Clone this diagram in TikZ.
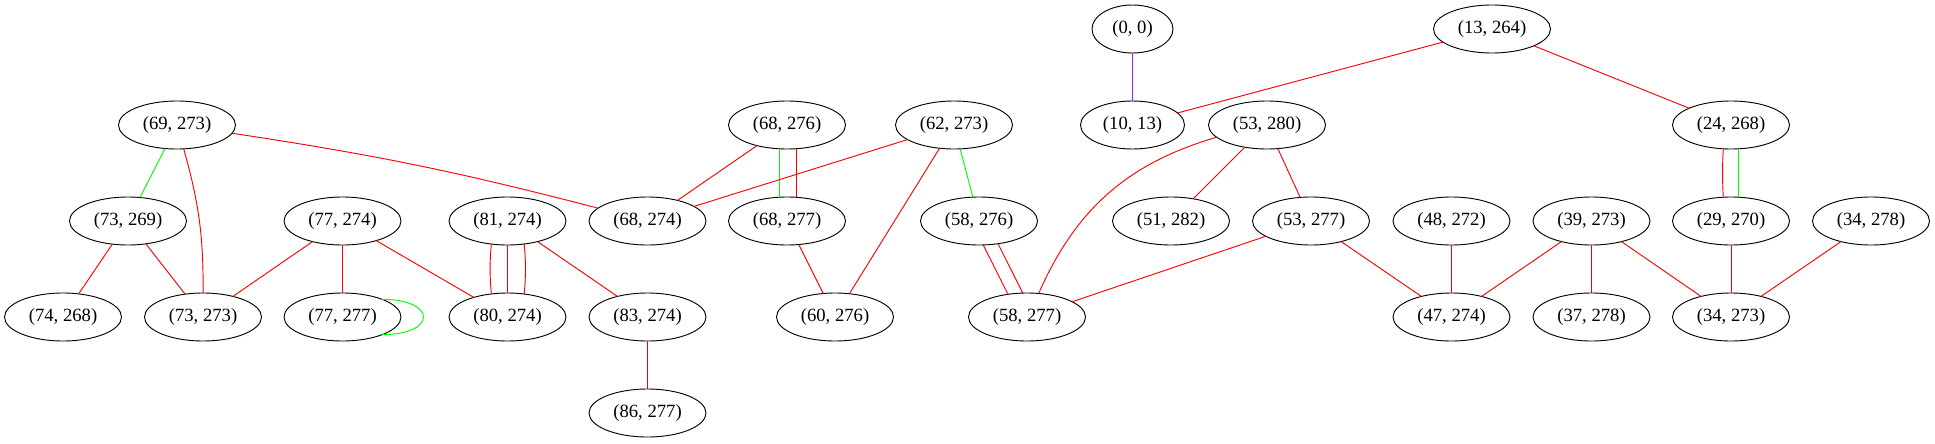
\documentclass[tikz,border=0pt]{standalone}
\usepackage{fontspec}
\setmainfont{Liberation Serif}
\usetikzlibrary{positioning}
\usetikzlibrary{shapes.geometric}
\definecolor{gvred}{RGB}{255,0,0}
\definecolor{gvgreen}{RGB}{0,255,0}
\definecolor{gvpurple}{RGB}{160,32,240}

\begin{document}
\begin{tikzpicture}[x=0.75pt, y=-0.75pt, line width=0.7pt, pairnode/.style={ellipse, draw, inner sep=0pt, outer sep=0pt, minimum width=87.75pt, minimum height=36pt}, every node/.style={font=\fontsize{14pt}{16pt}\selectfont}, redge/.style={draw=gvred}, gedge/.style={draw=gvgreen}, pedge/.style={draw=gvpurple}]

  \useasboundingbox (0,0) rectangle (1935,443);

  \node[pairnode, minimum width=60.75pt] (0-0) at (1132.5,29) {(0, 0)};
  \node[pairnode] (13-264) at (1492,29) {(13, 264)};
  \node[pairnode] (69-273) at (177,125) {(69, 273)};
  \node[pairnode] (68-276) at (787,125) {(68, 276)};
  \node[pairnode] (62-273) at (954,125) {(62, 273)};
  \node[pairnode, minimum width=78pt] (10-13) [below = 36pt of 0-0] {(10, 13)};
  \node[pairnode] (53-280) at (1267,125) {(53, 280)};
  \node[pairnode] (24-268) at (1731,125) {(24, 268)};
  \node[pairnode] (73-269) at (128,221) {(73, 269)};
  \node[pairnode] (77-274) at (342.5,221) {(77, 274)};
  \node[pairnode] (81-274) at (507.5,221) {(81, 274)};
  \node[pairnode] (68-274) at (647.5,221) {(68, 274)};
  \node[pairnode] (68-277) [below = 36pt of 68-276] {(68, 277)};
  \node[pairnode] (58-276) at (979,221) {(58, 276)};
  \node[pairnode] (51-282) at (1171,221) {(51, 282)};
  \node[pairnode] (53-277) at (1311,221) {(53, 277)};
  \node[pairnode] (48-272) at (1451.5,221) {(48, 272)};
  \node[pairnode] (39-273) at (1591.5,221) {(39, 273)};
  \node[pairnode] (29-270) [below = 36pt of 24-268] {(29, 270)};
  \node[pairnode] (34-278) at (1871,221) {(34, 278)};
  \node[pairnode] (74-268) at (63,317) {(74, 268)};
  \node[pairnode] (73-273) at (203,317) {(73, 273)};
  \node[pairnode] (77-277) [below = 36pt of 77-274] {(77, 277)};
  \node[pairnode] (80-274) [below = 36pt of 81-274] {(80, 274)};
  \node[pairnode] (83-274) [below = 36pt of 68-274] {(83, 274)};
  \node[pairnode] (60-276) at (835,317) {(60, 276)};
  \node[pairnode] (58-277) at (1027,317) {(58, 277)};
  \node[pairnode] (47-274) [below = 36pt of 48-272] {(47, 274)};
  \node[pairnode] (37-278) [below = 36pt of 39-273] {(37, 278)};
  \node[pairnode] (34-273) [below = 36pt of 29-270] {(34, 273)};
  \node[pairnode] (86-277) [below = 36pt of 83-274] {(86, 277)};

  \path
    (0-0) edge[pedge] (10-13)
    (13-264) edge[redge] (10-13)
    (13-264) edge[redge] (24-268)
    (24-268.-108) edge[redge, bend right=3] (29-270.108)
    (24-268.-72) edge[gedge] (29-270.72)
    (69-273) edge[gedge] (73-269)
    (69-273) edge[redge, bend left=8] (73-273)
    (69-273) edge[redge, bend left=3] (68-274)
    (73-269) edge[redge] (74-268)
    (73-269) edge[redge] (73-273)
    (77-274) edge[redge] (73-273)
    (77-274) edge[redge] (77-277)
    (77-274) edge[redge] (80-274)
    (77-277.24) edge[gedge, out=0, in=0, looseness=4] (77-277.-24)
    (81-274.-125) edge[redge, bend right=5] (80-274.125)
    (81-274) edge[redge] (80-274)
    (81-274.-54) edge[redge, bend left=5] (80-274.54)
    (81-274) edge[redge] (83-274)
    (83-274) edge[redge] (86-277)
    (68-276) edge[redge] (68-274)
    (68-276.-108) edge[gedge] (68-277.108)
    (68-276.-69) edge[redge] (68-277.69)
    (62-273) edge[redge] (68-274)
    (62-273) edge[redge] (60-276)
    (62-273) edge[gedge] (58-276)
    (68-277) edge[redge] (60-276)
    (58-276.-80) edge[redge] (58-277.130)
    (58-276.-50) edge[redge] (58-277.100)
    (53-280) edge[redge, bend right=25] (58-277)
    (53-280) edge[redge] (51-282)
    (53-280) edge[redge] (53-277)
    (53-277) edge[redge] (58-277)
    (53-277) edge[redge] (47-274)
    (48-272) edge[redge] (47-274)
    (39-273) edge[redge] (47-274)
    (39-273) edge[redge] (37-278)
    (39-273) edge[redge] (34-273)
    (29-270) edge[redge] (34-273)
    (34-278) edge[redge] (34-273)
  ;
\end{tikzpicture}
\end{document}
